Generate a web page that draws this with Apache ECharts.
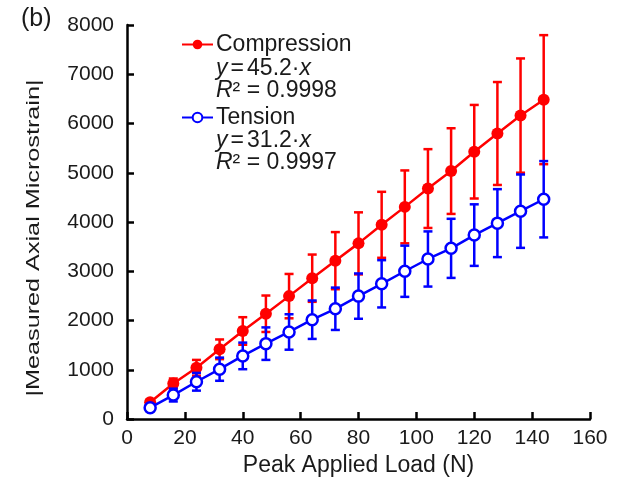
<!DOCTYPE html>
<html><head><meta charset="utf-8">
<script src="https://cdn.jsdelivr.net/npm/echarts@6/dist/echarts.min.js"></script>
<style>html,body{margin:0;padding:0;background:#fff}#c{width:618px;height:482px}</style>
</head><body><div id="c"></div>
<script>
var loads = [8,16,24,32,40,48,56,64,72,80,88,96,104,112,120,128,136,144];
var compression = [340,722,1040,1415,1787,2137,2495,2859,3215,3566,3943,4307,4679,5034,5427,5797,6161,6484];
var compressionErr = [60,100,160,200,280,370,450,480,580,630,670,740,800,870,950,1045,1160,1310];
var tension = [230,486,756,1011,1281,1530,1767,2016,2238,2495,2745,3000,3249,3465,3734,3977,4220,4462];
var tensionErr = [50,130,180,235,270,330,360,390,430,460,480,520,560,600,625,690,745,775];
var xTicks = {min:0,max:160,interval:20};
var yTicks = {min:0,max:8000,interval:1000};
var compLabel = ['Compression','45.2','0.9998'];
var tensLabel = ['Tension','31.2','0.9997'];

var FONT = '"Liberation Sans", Arial, sans-serif';
var RED = '#ff0000', BLUE = '#0000ff', INK = '#1a1a1a';

function pts(vals){ return loads.map(function(x,i){return [x, vals[i]];}); }
function errs(vals, e){ return loads.map(function(x,i){return [x, vals[i]-e[i], vals[i]+e[i]];}); }
function errRender(color){
  return function(params, api){
    var x = api.value(0);
    var lo = api.coord([x, api.value(1)]);
    var hi = api.coord([x, api.value(2)]);
    var w = 4.5;
    var st = {stroke: color, lineWidth: 2.5};
    return {type:'group', children:[
      {type:'line', shape:{x1:lo[0],y1:lo[1],x2:hi[0],y2:hi[1]}, style:st},
      {type:'line', shape:{x1:lo[0]-w,y1:lo[1],x2:lo[0]+w,y2:lo[1]}, style:st},
      {type:'line', shape:{x1:hi[0]-w,y1:hi[1],x2:hi[0]+w,y2:hi[1]}, style:st}
    ]};
  };
}
function eqText(y, slope, r2){
  var rich = {i:{fontStyle:'italic', fontSize:23, fontFamily:FONT, fill:INK},
              s:{fontSize:11, fontFamily:FONT, fill:INK}};
  return [
    {type:'text', x:216, y:y, style:{
      text:'{i|y}{s| }={s| }'+slope+'·{i|x}', font:'23px '+FONT, fill:INK, verticalAlign:'middle', rich:rich}},
    {type:'text', x:216, y:y+22, style:{
      text:'{i|R}² = '+r2, font:'23px '+FONT, fill:INK, verticalAlign:'middle', rich:rich}}
  ];
}

var chart = echarts.init(document.getElementById('c'));
var axisCommon = {
  axisLine:{show:true, onZero:false, lineStyle:{color:'#000', width:2.5}},
  axisTick:{show:true, inside:true, length:7, lineStyle:{color:'#000', width:2.5}},
  splitLine:{show:false}
};
chart.setOption({
  animation:false,
  backgroundColor:'#fff',
  grid:{left:127, right:28, top:25, bottom:61, containLabel:false},
  xAxis:Object.assign({type:'value', min:xTicks.min, max:xTicks.max, interval:xTicks.interval,
    name:'Peak Applied Load (N)', nameLocation:'middle', nameGap:35,
    nameTextStyle:{color:INK, fontSize:23, fontFamily:FONT}}, axisCommon,
    {axisLabel:{color:INK, fontSize:21, fontFamily:FONT, margin:9}}),
  yAxis:Object.assign({type:'value', min:yTicks.min, max:yTicks.max, interval:yTicks.interval}, axisCommon,
    {axisLabel:{color:INK, fontSize:21, fontFamily:FONT, margin:13, formatter:function(v){return String(v);}}}),
  legend:{orient:'vertical', left:181, top:33, padding:0, itemGap:50, itemWidth:31, itemHeight:12,
    textStyle:{color:INK, fontSize:23, fontFamily:FONT, padding:[0,0,0,-2]},
    data:[compLabel[0], tensLabel[0]]},
  graphic:[
    {type:'text', left:21, top:7, style:{text:'(b)', font:'25px '+FONT, fill:INK}},
    {type:'text', x:34, y:238, rotation:Math.PI/2, scaleX:1.4, style:{text:'|Measured Axial Microstrain|',
      font:'18px '+FONT, fill:INK, align:'center', verticalAlign:'middle'}}
  ].concat(eqText(69, compLabel[1], compLabel[2])).concat(eqText(141, tensLabel[1], tensLabel[2])),
  series:[
    {type:'custom', name:'compErr', data:errs(compression, compressionErr), renderItem:errRender(RED), z:2, silent:true},
    {type:'line', name:compLabel[0], data:pts(compression), symbol:'circle', symbolSize:12,
      lineStyle:{color:RED, width:2.5}, itemStyle:{color:RED, borderColor:RED, borderWidth:0}, z:3},
    {type:'custom', name:'tensErr', data:errs(tension, tensionErr), renderItem:errRender(BLUE), z:4, silent:true},
    {type:'line', name:tensLabel[0], data:pts(tension), symbol:'circle', symbolSize:11,
      lineStyle:{color:BLUE, width:2.5}, itemStyle:{color:'#fff', borderColor:BLUE, borderWidth:2.5}, z:5}
  ]
});
</script></body></html>
